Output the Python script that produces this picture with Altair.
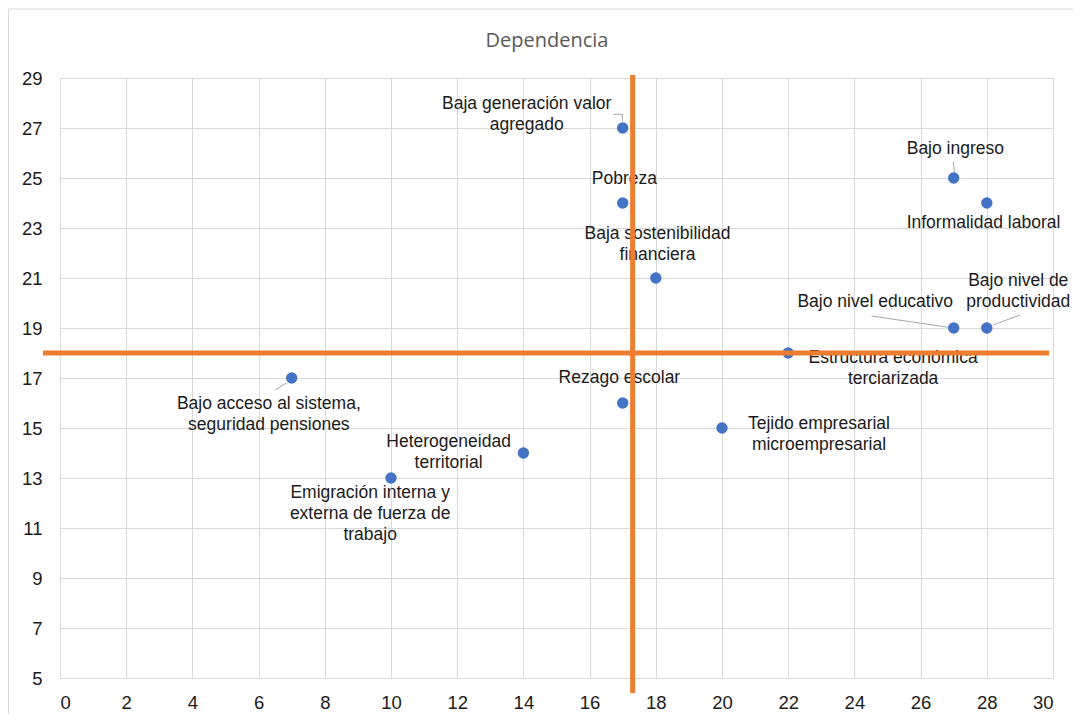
import altair as alt
import pandas as pd

# ---- data ----
title_text = ["Dependencia"]
labels = [
    "Baja generación valor\nagregado",
    "Pobreza",
    "Baja sostenibilidad\nfinanciera",
    "Bajo ingreso",
    "Informalidad laboral",
    "Bajo nivel educativo",
    "Bajo nivel de\nproductividad",
    "Estructura económica\nterciarizada",
    "Rezago escolar",
    "Tejido empresarial\nmicroempresarial",
    "Heterogeneidad\nterritorial",
    "Emigración interna y\nexterna de fuerza de\ntrabajo",
    "Bajo acceso al sistema,\nseguridad pensiones",
]
x_vals = [17, 17, 18, 27, 28, 27, 28, 22, 17, 20, 14, 10, 7]
y_vals = [27, 24, 21, 25, 24, 19, 19, 18, 16, 15, 14, 13, 17]

# label anchor positions (data units, first text line)
label_x = [14.1, 17.05, 18.05, 27.05, 27.9, 24.63, 28.95, 25.17, 16.9, 22.93, 11.74, 9.37, 6.31]
label_y = [27.96, 24.96, 22.76, 26.16, 23.2, 20.04, 20.88, 17.8, 17.0, 15.16, 14.44, 12.4, 15.96]

# leader lines (data units)
lead_x1 = [16.72, 16.99, 24.52, 29.0, 26.99, 6.5]
lead_y1 = [27.55, 27.55, 19.48, 19.52, 25.65, 16.52]
lead_x2 = [16.99, 16.99, 26.83, 28.19, 27.02, 6.85]
lead_y2 = [27.55, 27.26, 19.03, 19.12, 25.2, 16.81]

# quadrant dividers
x_split = [17.3]
y_split = [18.0]

x_ticks = list(range(0, 31, 2))
y_ticks = list(range(5, 30, 2))

pts = pd.DataFrame({"x": x_vals, "y": y_vals, "label": labels, "lx": label_x, "ly": label_y})
leads = pd.DataFrame({"x": lead_x1, "y": lead_y1, "x2": lead_x2, "y2": lead_y2})

W, H = 993, 600
FONT = "Liberation Sans"

xs = alt.Scale(domain=[0, 30], nice=False, zero=False)
ys = alt.Scale(domain=[5, 29], nice=False, zero=False)

xaxis = alt.Axis(values=x_ticks, title=None, grid=True, gridColor="#d9d9d9", ticks=False,
                 domain=False, labelFontSize=18.5, labelColor="#1a1a1a", labelFont=FONT,
                 labelPadding=15)
yaxis = alt.Axis(values=y_ticks, title=None, grid=True, gridColor="#d9d9d9", ticks=False,
                 domain=False, labelFontSize=18.5, labelColor="#1a1a1a", labelFont=FONT,
                 labelPadding=18)

base = alt.Chart(pts)

frame = alt.Chart(pd.DataFrame({"k": [0]})).mark_rect(fill=None, stroke="#d9d9d9", strokeWidth=1).encode(
    x=alt.value(-51.5), x2=alt.value(W + 60), y=alt.value(-69), y2=alt.value(H + 60)
)

title = alt.Chart(pd.DataFrame({"t": title_text})).mark_text(
    font="Open Sans", fontSize=20, color="#595959", align="center", baseline="middle"
).encode(x=alt.value(487), y=alt.value(-37), text="t:N")

grid = base.mark_point(opacity=0).encode(
    x=alt.X("x:Q", scale=xs, axis=xaxis),
    y=alt.Y("y:Q", scale=ys, axis=yaxis),
)

vline = alt.Chart(pd.DataFrame({"x": x_split})).mark_rule(color="#ED7D31", strokeWidth=5).encode(
    x=alt.X("x:Q", scale=xs), y=alt.value(-3), y2=alt.value(H + 15)
)
hline = alt.Chart(pd.DataFrame({"y": y_split})).mark_rule(color="#ED7D31", strokeWidth=5).encode(
    y=alt.Y("y:Q", scale=ys), x=alt.value(-17), x2=alt.value(W - 4)
)

leaders = alt.Chart(leads).mark_rule(color="#a6a6a6", strokeWidth=1).encode(
    x=alt.X("x:Q", scale=xs), y=alt.Y("y:Q", scale=ys),
    x2="x2:Q", y2="y2:Q",
)

dots = base.mark_circle(size=130, color="#4472C4", opacity=1).encode(
    x=alt.X("x:Q", scale=xs), y=alt.Y("y:Q", scale=ys)
)

texts = base.mark_text(fontSize=17.5, font=FONT, color="#1a1a1a", lineBreak="\n",
                       lineHeight=21, align="center", baseline="middle").encode(
    x=alt.X("lx:Q", scale=xs), y=alt.Y("ly:Q", scale=ys), text="label:N"
)

chart = alt.layer(frame, title, grid, leaders, texts, dots, vline, hline).properties(
    width=W, height=H,
    autosize=alt.AutoSizeParams(type="none"),
    padding={"left": 52, "top": 70, "right": 20, "bottom": 36},
).configure_view(stroke="#d9d9d9", strokeWidth=1).configure(background="white")

chart.save("out.html", embed_options={"renderer": "svg", "actions": False})
